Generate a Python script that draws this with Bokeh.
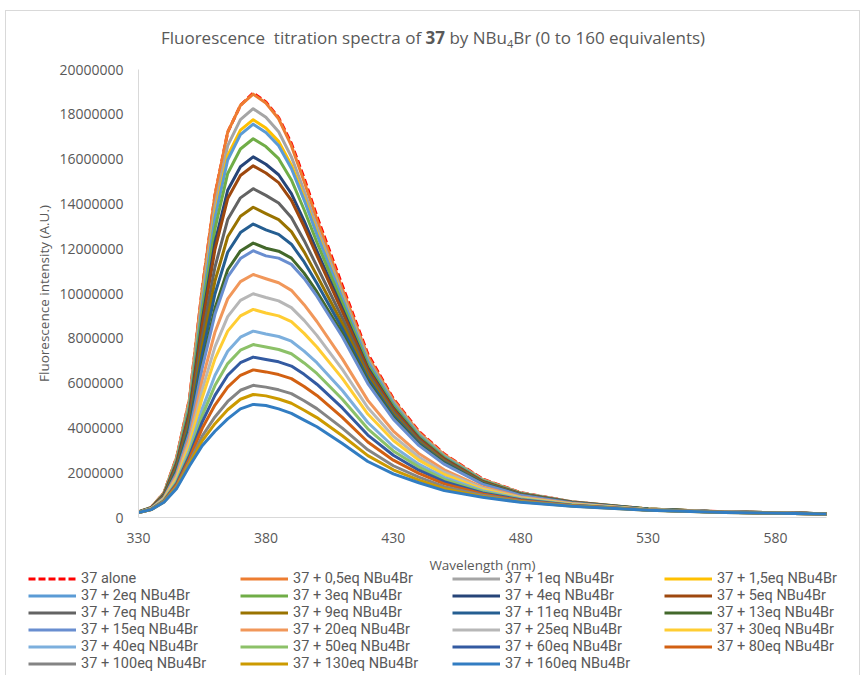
from bokeh.plotting import figure
from bokeh.layouts import column
from bokeh.models import (Range1d, FixedTicker, Legend, LegendItem, BasicTickFormatter,
                          Div, LinearAxis)
from bokeh.embed import file_html
from bokeh.resources import INLINE

# ---------------- data (intensity in millions of A.U.) ----------------
wavelength = [330, 335, 340, 345, 350, 355, 360, 365, 370, 375, 380, 385, 390, 395,
              400, 410, 420, 430, 440, 450, 465, 480, 500, 530, 560, 600]

eq_alone = [0.25, 0.45, 1.10, 2.70, 5.30, 10.2, 14.4, 17.2, 18.4, 18.95, 18.55, 17.85, 16.7, 15.15, 13.45, 10.35, 7.3, 5.3, 3.85, 2.83, 1.72, 1.11, 0.70, 0.38, 0.25, 0.17]
eq0_5 = [0.25, 0.45, 1.10, 2.70, 5.30, 10.2, 14.4, 17.2, 18.4, 18.9, 18.5, 17.8, 16.6, 15.0, 13.3, 10.2, 7.2, 5.25, 3.80, 2.80, 1.70, 1.10, 0.70, 0.38, 0.25, 0.17]
eq1 = [0.25, 0.44, 1.08, 2.63, 5.16, 9.87, 13.90, 16.60, 17.76, 18.25, 17.87, 17.22, 16.10, 14.59, 12.98, 10.00, 7.08, 5.17, 3.74, 2.76, 1.68, 1.09, 0.70, 0.38, 0.25, 0.17]
eq1_5 = [0.25, 0.44, 1.07, 2.59, 5.05, 9.63, 13.54, 16.15, 17.29, 17.76, 17.39, 16.79, 15.73, 14.28, 12.73, 9.84, 6.99, 5.10, 3.70, 2.73, 1.66, 1.08, 0.69, 0.38, 0.25, 0.17]
eq2 = [0.25, 0.44, 1.06, 2.56, 5.01, 9.52, 13.38, 15.96, 17.09, 17.56, 17.19, 16.60, 15.58, 14.17, 12.64, 9.79, 6.97, 5.09, 3.69, 2.72, 1.66, 1.08, 0.69, 0.38, 0.25, 0.17]
eq3 = [0.25, 0.44, 1.04, 2.50, 4.87, 9.19, 12.88, 15.36, 16.45, 16.91, 16.56, 16.02, 15.07, 13.74, 12.29, 9.56, 6.82, 4.99, 3.62, 2.67, 1.64, 1.07, 0.68, 0.38, 0.25, 0.17]
eq4 = [0.24, 0.43, 1.02, 2.42, 4.69, 8.79, 12.27, 14.61, 15.66, 16.10, 15.77, 15.30, 14.46, 13.24, 11.90, 9.31, 6.68, 4.89, 3.55, 2.62, 1.61, 1.05, 0.68, 0.37, 0.25, 0.17]
eq5 = [0.24, 0.43, 1.00, 2.38, 4.61, 8.58, 11.96, 14.24, 15.27, 15.70, 15.38, 14.95, 14.16, 12.99, 11.70, 9.19, 6.61, 4.84, 3.52, 2.60, 1.60, 1.05, 0.68, 0.37, 0.25, 0.17]
eq7 = [0.24, 0.42, 0.97, 2.27, 4.39, 8.07, 11.18, 13.30, 14.27, 14.68, 14.38, 14.04, 13.39, 12.37, 11.22, 8.90, 6.45, 4.72, 3.44, 2.54, 1.57, 1.03, 0.67, 0.37, 0.25, 0.17]
eq9 = [0.24, 0.41, 0.95, 2.19, 4.21, 7.65, 10.55, 12.53, 13.45, 13.85, 13.57, 13.30, 12.76, 11.86, 10.81, 8.65, 6.31, 4.62, 3.37, 2.50, 1.55, 1.02, 0.66, 0.37, 0.24, 0.17]
eq11 = [0.24, 0.41, 0.92, 2.11, 4.04, 7.27, 9.98, 11.84, 12.72, 13.10, 12.84, 12.64, 12.20, 11.41, 10.46, 8.43, 6.19, 4.54, 3.32, 2.46, 1.53, 1.01, 0.66, 0.37, 0.24, 0.17]
eq13 = [0.24, 0.40, 0.90, 2.03, 3.86, 6.84, 9.34, 11.06, 11.90, 12.25, 12.02, 11.89, 11.58, 10.91, 10.08, 8.21, 6.07, 4.46, 3.26, 2.42, 1.51, 1.00, 0.65, 0.37, 0.24, 0.17]
eq15 = [0.24, 0.40, 0.89, 1.99, 3.79, 6.67, 9.07, 10.74, 11.56, 11.91, 11.68, 11.58, 11.30, 10.67, 9.88, 8.07, 5.98, 4.39, 3.22, 2.38, 1.49, 0.99, 0.65, 0.36, 0.24, 0.17]
eq20 = [0.23, 0.39, 0.86, 1.89, 3.56, 6.13, 8.27, 9.76, 10.53, 10.85, 10.66, 10.48, 10.14, 9.50, 8.75, 7.08, 5.23, 3.86, 2.86, 2.13, 1.36, 0.92, 0.62, 0.35, 0.24, 0.17]
eq25 = [0.23, 0.39, 0.83, 1.80, 3.37, 5.70, 7.62, 8.97, 9.69, 9.99, 9.82, 9.67, 9.37, 8.80, 8.13, 6.61, 4.90, 3.63, 2.70, 2.02, 1.31, 0.89, 0.60, 0.35, 0.24, 0.16]
eq30 = [0.23, 0.38, 0.81, 1.73, 3.22, 5.34, 7.08, 8.32, 9.00, 9.29, 9.13, 9.00, 8.74, 8.22, 7.61, 6.21, 4.62, 3.44, 2.56, 1.92, 1.26, 0.87, 0.59, 0.35, 0.23, 0.16]
eq40 = [0.23, 0.37, 0.78, 1.63, 3.01, 4.85, 6.34, 7.42, 8.05, 8.32, 8.19, 8.08, 7.87, 7.43, 6.91, 5.67, 4.24, 3.17, 2.38, 1.79, 1.20, 0.84, 0.57, 0.34, 0.23, 0.16]
eq50 = [0.23, 0.37, 0.76, 1.57, 2.88, 4.55, 5.89, 6.87, 7.47, 7.72, 7.61, 7.50, 7.31, 6.90, 6.43, 5.28, 3.96, 2.97, 2.25, 1.70, 1.15, 0.81, 0.56, 0.34, 0.23, 0.16]
eq60 = [0.22, 0.37, 0.74, 1.51, 2.76, 4.26, 5.45, 6.35, 6.91, 7.16, 7.05, 6.95, 6.76, 6.39, 5.95, 4.89, 3.68, 2.78, 2.11, 1.60, 1.10, 0.79, 0.55, 0.34, 0.23, 0.16]
eq80 = [0.22, 0.36, 0.73, 1.46, 2.63, 3.98, 5.02, 5.82, 6.35, 6.59, 6.50, 6.38, 6.20, 5.85, 5.45, 4.47, 3.37, 2.56, 1.97, 1.50, 1.05, 0.76, 0.54, 0.33, 0.23, 0.16]
eq100 = [0.22, 0.36, 0.71, 1.39, 2.48, 3.63, 4.49, 5.18, 5.68, 5.90, 5.82, 5.70, 5.53, 5.21, 4.86, 3.99, 3.02, 2.31, 1.80, 1.38, 0.99, 0.73, 0.52, 0.33, 0.22, 0.16]
eq130 = [0.22, 0.35, 0.69, 1.35, 2.40, 3.42, 4.19, 4.81, 5.28, 5.49, 5.43, 5.29, 5.10, 4.79, 4.46, 3.65, 2.76, 2.13, 1.67, 1.29, 0.94, 0.70, 0.51, 0.32, 0.22, 0.16]
eq160 = [0.22, 0.35, 0.68, 1.30, 2.30, 3.20, 3.85, 4.40, 4.85, 5.05, 5.00, 4.85, 4.65, 4.35, 4.05, 3.30, 2.50, 1.95, 1.55, 1.20, 0.90, 0.68, 0.50, 0.32, 0.22, 0.16]

series_values = [eq_alone, eq0_5, eq1, eq1_5, eq2, eq3, eq4, eq5, eq7, eq9, eq11, eq13,
                 eq15, eq20, eq25, eq30, eq40, eq50, eq60, eq80, eq100, eq130, eq160]

series_labels = ["37 alone", "37 + 0,5eq NBu4Br", "37 + 1eq NBu4Br", "37 + 1,5eq NBu4Br",
                 "37 + 2eq NBu4Br", "37 + 3eq NBu4Br", "37 + 4eq NBu4Br", "37 + 5eq NBu4Br",
                 "37 + 7eq NBu4Br", "37 + 9eq NBu4Br", "37 + 11eq NBu4Br", "37 + 13eq NBu4Br",
                 "37 + 15eq NBu4Br", "37 + 20eq NBu4Br", "37 + 25eq NBu4Br", "37 + 30eq NBu4Br",
                 "37 + 40eq NBu4Br", "37 + 50eq NBu4Br", "37 + 60eq NBu4Br", "37 + 80eq NBu4Br",
                 "37 + 100eq NBu4Br", "37 + 130eq NBu4Br", "37 + 160eq NBu4Br"]

series_colors = ["#FF0000", "#ED7D31", "#A5A5A5", "#FFC000",
                 "#5B9BD5", "#70AD47", "#264478", "#9E480E",
                 "#636363", "#997300", "#255E91", "#43682B",
                 "#698ED0", "#F1975A", "#B7B7B7", "#FFCD33",
                 "#7CAFDD", "#8CC168", "#335AA1", "#D26012",
                 "#848484", "#CC9A00", "#327DC2"]

x_min, x_max = 330, 600
y_min, y_max = 0, 20000000
x_ticks = [330, 380, 430, 480, 530, 580]
y_ticks = [0, 2000000, 4000000, 6000000, 8000000, 10000000, 12000000,
           14000000, 16000000, 18000000, 20000000]
unit = 1000000

FONT = "Open Sans"
LEGEND_FONT = "Roboto"
GREY = "#595959"

# ---------------- title (HTML so that "37" can be bold and the 4 subscript) ----------------
TITLE_H = 56
title = Div(
    text=("<div style=\"position:relative;width:866px;height:56px\">"
          "<div style=\"position:absolute;left:5px;top:10px;width:855px;height:680px;"
          "border:1px solid #d9d9d9;box-sizing:border-box;pointer-events:none\"></div>"
          "<div style=\"width:866px;text-align:center;font-family:'Open Sans';"
          "font-size:17px;color:#595959;padding-top:27px;white-space:pre;line-height:22px\">"
          "Fluorescence  titration spectra of <b>37</b> by NBu<sub style=\"font-size:11px\">4</sub>Br"
          " (0 to 160 equivalents)</div></div>"),
    width=866, height=TITLE_H, margin=0,
    styles={"overflow": "visible", "z-index": "10"})

# ---------------- main plot: the frame fills the canvas, axes sit at fixed locations ----------
W, H = 866, 675 - TITLE_H
PX_LEFT, PX_RIGHT = 138, 826          # plot-area edges on the page
PX_TOP, PX_BOTTOM = 69 - TITLE_H, 517 - TITLE_H
sx = (PX_RIGHT - PX_LEFT) / (x_max - x_min)
sy = (PX_BOTTOM - PX_TOP) / (y_max - y_min)
x_range = Range1d(x_min - PX_LEFT / sx, x_max + (W - PX_RIGHT) / sx)
y_range = Range1d(y_min - (H - PX_BOTTOM) / sy, y_max + PX_TOP / sy)

p = figure(width=W, height=H, min_border=0,
           x_range=x_range, y_range=y_range,
           x_axis_location=None, y_axis_location=None,
           output_backend="svg", toolbar_location=None,
           background_fill_color="white", border_fill_color="white",
           outline_line_color=None, margin=0)
p.grid.visible = False

xaxis = LinearAxis(fixed_location=y_min, bounds=(x_min, x_max),
                   ticker=FixedTicker(ticks=x_ticks), axis_label="Wavelength (nm)")
yaxis = LinearAxis(fixed_location=x_min, bounds=(y_min, y_max),
                   ticker=FixedTicker(ticks=y_ticks),
                   formatter=BasicTickFormatter(use_scientific=False),
                   axis_label="Fluorescence intensity (A.U.)")

for ax in (xaxis, yaxis):
    ax.axis_line_color = "#D9D9D9"
    ax.axis_line_width = 1
    ax.major_tick_line_color = None
    ax.minor_tick_line_color = None
    ax.major_tick_in = 0
    ax.major_tick_out = 0
    ax.minor_tick_in = 0
    ax.minor_tick_out = 0
    ax.major_label_text_font = FONT
    ax.major_label_text_font_size = "14px"
    ax.major_label_text_color = GREY
    ax.axis_label_text_font = FONT
    ax.axis_label_text_font_size = "13.5px"
    ax.axis_label_text_color = GREY
    ax.axis_label_text_font_style = "normal"

xaxis.major_label_standoff = 15
xaxis.axis_label_standoff = 10
yaxis.major_label_standoff = 15
yaxis.axis_label_standoff = 3
p.add_layout(xaxis, "below")
p.add_layout(yaxis, "left")

renderers = []
for i, (vals, color) in enumerate(zip(series_values, series_colors)):
    ys = [v * unit for v in vals]
    r = p.line(wavelength, ys, line_color=color, line_width=3,
               line_dash="7 3" if i == 0 else "solid", line_join="round")
    renderers.append(r)

# ---------------- legend: 4 columns, row-major, under the axis title ----------------
items = [LegendItem(label=lab, renderers=[r]) for lab, r in zip(series_labels, renderers)]
ITEM_H = 17
LEG_BOX_H = 6 * ITEM_H
LEG_TOP = 569.5 - TITLE_H          # top of first legend row within the canvas
legend = Legend(items=items, location=(28, H - LEG_TOP - LEG_BOX_H),
                orientation="horizontal", ncols=4,
                padding=0, margin=0, spacing=0,
                glyph_width=48, glyph_height=ITEM_H, label_height=ITEM_H, label_width=159,
                label_standoff=5,
                label_text_font=LEGEND_FONT, label_text_font_size="14.5px",
                label_text_line_height=1.0,
                label_text_color=GREY, border_line_color=None,
                background_fill_alpha=0)
p.add_layout(legend, "center")

layout = column(title, p, spacing=0, margin=0)

open("out.html", "w").write(file_html(layout, INLINE))
